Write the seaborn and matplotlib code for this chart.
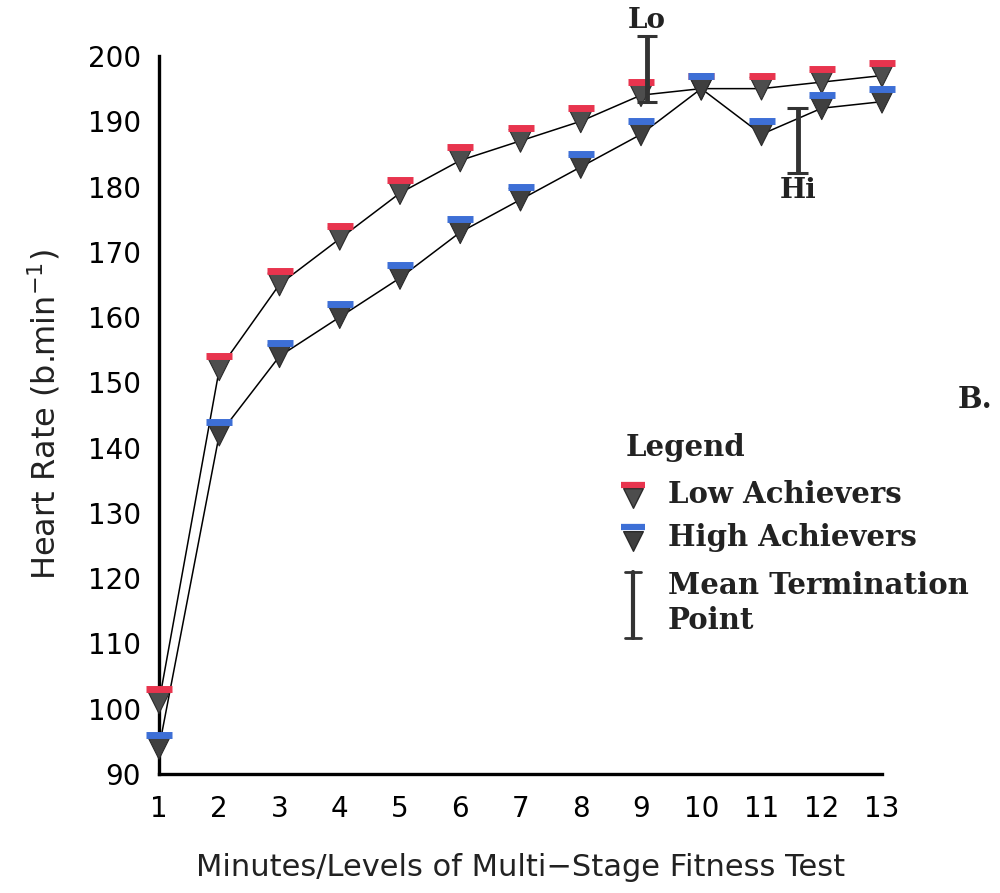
import numpy as np
import pandas as pd
import matplotlib
matplotlib.use("Agg")
import matplotlib.pyplot as plt
import matplotlib.transforms as mtransforms
import seaborn as sns

# ---- data ----
minutes = [1, 2, 3, 4, 5, 6, 7, 8, 9, 10, 11, 12, 13]
low_achievers = [101, 152, 165, 172, 179, 184, 187, 190, 194, 195, 195, 196, 197]
high_achievers = [94, 142, 154, 160, 166, 173, 178, 183, 188, 195, 188, 192, 193]
term_x = [9.1, 11.6]
term_low = [193, 182]
term_high = [203, 192]
term_labels = ["Lo", "Hi"]
y_ticks = [90, 100, 110, 120, 130, 140, 150, 160, 170, 180, 190, 200]

df = pd.DataFrame({
    "Minute": minutes * 2,
    "HR": low_achievers + high_achievers,
    "Group": ["Low Achievers"] * len(minutes) + ["High Achievers"] * len(minutes),
})

sns.set_style("white")
serif = ["DejaVu Serif"]
plt.rcParams["font.family"] = ["DejaVu Sans"]

fig = plt.figure(figsize=(10, 8.93), dpi=100)
ax = fig.add_axes([0.159, 0.1333, 0.723, 0.804])

sns.lineplot(data=df, x="Minute", y="HR", hue="Group",
             palette={"Low Achievers": "black", "High Achievers": "black"},
             linewidth=1.1, legend=False, ax=ax, zorder=2, clip_on=False)
sns.scatterplot(data=df, x="Minute", y="HR", hue="Group",
                palette={"Low Achievers": "#4d4d4d", "High Achievers": "#3f3f3f"},
                marker="v", s=270, edgecolor="#2a2a2a", linewidth=0.8,
                legend=False, ax=ax, zorder=3, clip_on=False)

# coloured dashes above markers
off = mtransforms.offset_copy(ax.transData, fig=fig, x=0, y=13, units="dots")
ax.scatter(minutes, low_achievers, marker="_", s=360, linewidths=5,
           color="#e8344e", transform=off, zorder=4, clip_on=False)
ax.scatter(minutes, high_achievers, marker="_", s=360, linewidths=5,
           color="#3d6fd6", transform=off, zorder=4, clip_on=False)

# mean termination points
for x, lo, hi, lab in zip(term_x, term_low, term_high, term_labels):
    ax.vlines(x, lo, hi, color="#333333", linewidth=3.5, zorder=5, clip_on=False)
    ax.hlines([lo, hi], x - 0.17, x + 0.17, color="#333333", linewidth=2.2,
              zorder=5, clip_on=False)
ax.text(term_x[0], term_high[0] + 0.3, term_labels[0], ha="center", va="bottom",
        fontsize=20, fontweight="bold", family=serif, color="#222222")
ax.text(term_x[1], term_low[1] - 0.6, term_labels[1], ha="center", va="top",
        fontsize=20, fontweight="bold", family=serif, color="#222222")

ax.set_xlim(1, 13)
ax.set_ylim(90, 200)
ax.set_xticks(minutes)
ax.set_yticks(y_ticks)
for s in ["top", "right"]:
    ax.spines[s].set_visible(False)
for s in ["left", "bottom"]:
    ax.spines[s].set_linewidth(2.4)
    ax.spines[s].set_color("black")
ax.tick_params(direction="in", length=12, width=2, labelsize=20, colors="black")
ax.tick_params(axis="y", pad=13)
ax.tick_params(axis="x", pad=15)
ax.set_xlabel("Minutes/Levels of Multi\u2212Stage Fitness Test", fontsize=22,
              labelpad=22, color="#222222")
ax.set_ylabel("Heart Rate (b.min$^{-1}$)", fontsize=23, labelpad=18, color="#222222")

# legend drawn manually
tk = dict(transform=ax.transAxes, family=serif, fontweight="bold", fontsize=21,
          color="#222222", va="center", ha="left")
ax.text(0.645, 0.455, "Legend", **tk)
ax.scatter([0.656], [0.384], marker="v", s=200, color="#4d4d4d", edgecolor="#2a2a2a",
           transform=ax.transAxes, clip_on=False, zorder=5)
ax.scatter([0.656], [0.403], marker="_", s=300, linewidths=4.5, color="#e8344e",
           transform=ax.transAxes, clip_on=False, zorder=5)
ax.text(0.704, 0.389, "Low Achievers", **tk)
ax.scatter([0.656], [0.325], marker="v", s=200, color="#3f3f3f", edgecolor="#2a2a2a",
           transform=ax.transAxes, clip_on=False, zorder=5)
ax.scatter([0.656], [0.344], marker="_", s=300, linewidths=4.5, color="#3d6fd6",
           transform=ax.transAxes, clip_on=False, zorder=5)
ax.text(0.704, 0.329, "High Achievers", **tk)
ax.plot([0.656, 0.656], [0.189, 0.281], color="#333333", linewidth=3,
        transform=ax.transAxes, clip_on=False)
for yy in (0.189, 0.281):
    ax.plot([0.645, 0.667], [yy, yy], color="#333333", linewidth=2,
            transform=ax.transAxes, clip_on=False)
ax.text(0.704, 0.263, "Mean Termination", **tk)
ax.text(0.704, 0.214, "Point", **tk)
ax.text(1.105, 0.521, "B.", **tk)

fig.savefig("out.png", dpi=100)
